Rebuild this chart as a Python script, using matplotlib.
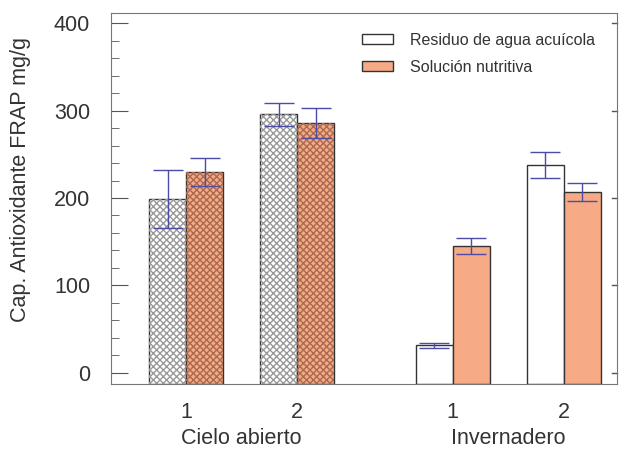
import matplotlib
matplotlib.use("Agg")
import matplotlib.pyplot as plt
from matplotlib.patches import Patch
import numpy as np

plt.rcParams['font.family'] = ['Liberation Sans', 'DejaVu Sans']

# data
positions = [1.0, 2.0, 3.4, 4.4]
tick_labels = ["1", "2", "1", "2"]
groups = ["Cielo abierto", "Invernadero"]
residuo = [199, 296, 31, 238]
residuo_err = [33, 13, 3, 15]
solucion = [230, 286, 145, 207]
solucion_err = [16, 17, 9, 10]
hatched = [True, True, False, False]

orange = "#F6AA85"
ebar = "#4B4BA8"
txt = "#333333"
w = 1 / 3
base = -13

fig = plt.figure(figsize=(6.24, 4.49), dpi=100)
ax = fig.add_axes([0.178, 0.145, 0.811, 0.826])

x = np.array(positions)
for i in range(len(x)):
    for xi, val, col, hcol in [(x[i] - w / 2, residuo[i], "white", "#999999"),
                               (x[i] + w / 2, solucion[i], orange, "#a86a50")]:
        ax.bar(xi, val - base, bottom=base, width=w, color=col, edgecolor="#333333", linewidth=1, zorder=2)
        if hatched[i]:
            ax.bar(xi, val - base, bottom=base, width=w, color="none", edgecolor=hcol,
                   linewidth=0, hatch="xxxxx", zorder=2)

ax.errorbar(x - w / 2, residuo, yerr=residuo_err, fmt="none", ecolor=ebar, elinewidth=1, capsize=11, capthick=1, zorder=3)
ax.errorbar(x + w / 2, solucion, yerr=solucion_err, fmt="none", ecolor=ebar, elinewidth=1, capsize=11, capthick=1, zorder=3)

ax.set_xlim(0.324, 4.883)
ax.set_ylim(-13, 412)
ax.set_yticks([0, 100, 200, 300, 400])
ax.set_yticks(np.arange(0, 401, 20), minor=True)
ax.tick_params(axis="y", which="both", direction="in", labelsize=15.5, colors="#555555", labelcolor=txt, pad=15)
ax.tick_params(axis="y", which="major", length=12)
ax.tick_params(axis="y", which="minor", length=6)
for t in [0, 100, 200, 300, 400]:
    ax.plot([4.883 - 0.05, 4.883], [t, t], color="#555555", lw=1, clip_on=False)
ax.set_xticks(x)
ax.set_xticklabels(tick_labels)
ax.tick_params(axis="x", length=0, labelsize=15.5, colors=txt, pad=13)
for s in ax.spines.values():
    s.set_color("#777777")

for k, g in enumerate(groups):
    ax.text((x[2 * k] + x[2 * k + 1]) / 2, -0.146, g, transform=ax.get_xaxis_transform(),
            ha="center", va="center", fontsize=15.5, color=txt)

ax.set_ylabel("Cap. Antioxidante FRAP mg/g", fontsize=15.5, color=txt)
ax.yaxis.set_label_coords(-0.158, 0.55)

handles = [Patch(facecolor="white", edgecolor="#333333", label="Residuo de agua acuícola"),
           Patch(facecolor=orange, edgecolor="#333333", label="Solución nutritiva")]
ax.legend(handles=handles, loc="upper right", bbox_to_anchor=(0.985, 0.985), frameon=False, fontsize=11.5,
          handlelength=1.9, handleheight=0.6, handletextpad=1.1, labelspacing=0.75, labelcolor=txt)

fig.savefig("out.png", dpi=100)
